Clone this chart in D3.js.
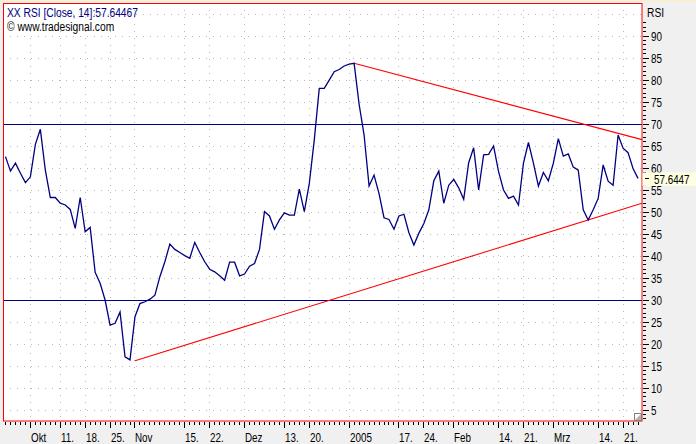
<!DOCTYPE html>
<html>
<head>
<meta charset="utf-8">
<script src="https://cdn.jsdelivr.net/npm/d3@7/dist/d3.min.js"></script>
<style>
  html, body { margin: 0; padding: 0; background: #f0f0f0; }
  svg { display: block; }
  text { font-family: "Liberation Sans", Arial, sans-serif; }
</style>
</head>
<body>
<svg id="chart" width="696" height="444"></svg>
<script>
// ---- data ----
const tickIdx = [5, 11, 16, 21, 26, 36, 41, 48, 56, 61, 69, 79, 84, 90, 99, 104, 110, 119, 124];
const tickLabels = ["Okt", "11.", "18.", "25.", "Nov", "15.", "22.", "Dez", "13.", "20.", "2005", "17.", "24.", "Feb", "14.", "21.", "Mrz", "14.", "21."];
const rsi = [
  62.6, 59.3, 61.1, 58.8, 56.7, 58.0, 65.4, 68.8, 59.5, 53.3,
  53.3, 52.0, 51.6, 50.6, 46.3, 53.3, 45.5, 46.5, 36.3, 33.8,
  30.0, 24.3, 24.7, 27.3, 17.1, 16.4, 26.2, 29.2, 29.6, 30.2,
  31.1, 35.3, 38.7, 42.7, 41.5, 40.8, 40.1, 39.5, 43.1, 40.8,
  38.7, 37.0, 36.4, 35.5, 34.5, 38.6, 38.6, 35.5, 35.9, 37.7,
  38.3, 41.5, 50.1, 49.1, 46.1, 48.2, 49.8, 49.3, 49.3, 55.2,
  50.1, 56.5, 66.4, 78.1, 78.1, 80.0, 81.9, 82.4, 83.2, 83.6,
  83.8, 74.5, 67.5, 55.9, 58.4, 54.2, 48.7, 48.3, 46.1, 49.1,
  49.5, 45.3, 42.5, 45.2, 47.4, 50.5, 57.1, 59.3, 52.0, 56.1,
  57.4, 55.5, 52.9, 61.2, 64.6, 55.0, 63.0, 63.1, 65.0, 59.2,
  55.0, 53.1, 53.6, 51.6, 61.1, 65.8, 61.1, 55.9, 59.0, 57.1,
  61.1, 66.7, 62.7, 63.2, 60.2, 59.5, 50.5, 48.2, 50.5, 53.1,
  60.7, 57.0, 56.1, 67.5, 64.5, 63.5, 59.9, 57.64467
];
const lastValue = 57.64467;
const levels = [30, 70];
const upperTrend = [[70, 83.8], [123, 67.9]];
const lowerTrend = [[26, 16.2], [117, 48.2]];
const yLabelValues = [5, 10, 15, 20, 25, 30, 35, 40, 45, 50, 55, 60, 65, 70, 75, 80, 85, 90];
const yGridValues = [5, 10, 15, 20, 25, 35, 40, 45, 50, 55, 60, 65, 75, 80, 85, 90, 95];
const yMinorTicks = d3.range(3, 94);

// ---- layout ----
const W = 696, H = 444;
const L = 3, R = 642, T = 3, B = 421;
const NARROW = 0.82;
const svg = d3.select("#chart");

const x = d3.scaleLinear().domain([-0.5, 127.8]).range([L, R]);
const y = d3.scaleLinear().domain([2.5, 97.4]).range([B, T + 0.5]);
const px = v => Math.floor(v) + 0.5;

function narrowText(sel, tx, ty) {
  return sel.attr("x", 0).attr("y", 0)
    .attr("transform", (d, i) => `translate(${typeof tx === "function" ? tx(d, i) : tx},${typeof ty === "function" ? ty(d, i) : ty}) scale(${NARROW},1)`);
}

// backgrounds
svg.append("rect").attr("width", W).attr("height", H).attr("fill", "#f0f0f0");
svg.append("rect").attr("x", 0).attr("y", 0).attr("width", W).attr("height", 2).attr("fill", "#f6efd6");
svg.append("rect").attr("x", L).attr("y", T).attr("width", R - L).attr("height", B - T).attr("fill", "#ffffff");

svg.append("clipPath").attr("id", "plotclip")
  .append("rect").attr("x", L).attr("y", T).attr("width", R - L).attr("height", B - T);
const plot = svg.append("g").attr("clip-path", "url(#plotclip)");

// grid
plot.selectAll("line.hg").data(yGridValues).join("line")
  .attr("x1", L).attr("x2", R)
  .attr("y1", d => px(y(d))).attr("y2", d => px(y(d)))
  .attr("stroke", "#b8b8b8").attr("stroke-width", 1).attr("stroke-dasharray", "1,6");
plot.selectAll("line.vg").data(tickIdx).join("line")
  .attr("y1", T).attr("y2", B)
  .attr("x1", d => px(x(d))).attr("x2", d => px(x(d)))
  .attr("stroke", "#b8b8b8").attr("stroke-width", 1).attr("stroke-dasharray", "1,6");

// level lines
plot.selectAll("line.lvl").data(levels).join("line")
  .attr("x1", L).attr("x2", R)
  .attr("y1", d => px(y(d))).attr("y2", d => px(y(d)))
  .attr("stroke", "#000080").attr("stroke-width", 1);

// trend lines extended to the right edge
const xEnd = x.domain()[1];
function extend(pts) {
  const [[i0, v0], [i1, v1]] = pts;
  const s = (v1 - v0) / (i1 - i0);
  return [[i0, v0], [xEnd, v0 + s * (xEnd - i0)]];
}
const tl = d3.line().x(d => x(d[0])).y(d => y(d[1]));
[upperTrend, lowerTrend].forEach(t => {
  plot.append("path").attr("d", tl(extend(t)))
    .attr("fill", "none").attr("stroke", "#ff0000").attr("stroke-width", 1.1);
});

// RSI line
const line = d3.line().x((d, i) => x(i)).y(d => y(d));
plot.append("path").datum(rsi).attr("d", line)
  .attr("fill", "none").attr("stroke", "#000080").attr("stroke-width", 1.3);

// plot border
svg.append("rect").attr("x", L + 0.5).attr("y", T + 0.5).attr("width", R - L - 0.5).attr("height", B - T - 0.5)
  .attr("fill", "none").attr("stroke", "#ff0000").attr("stroke-width", 1);

// resize grip
svg.append("rect").attr("x", 634.5).attr("y", 413.5).attr("width", 7).attr("height", 7)
  .attr("fill", "#ffffff").attr("stroke", "#808080");
svg.append("path").attr("d", "M641,414 L641,420 L635,420 Z").attr("fill", "#b0b0b0");

// x axis ticks
const ax = svg.append("g");
ax.selectAll("line.minx").data(d3.range(0, rsi.length)).join("line")
  .attr("x1", d => px(x(d))).attr("x2", d => px(x(d)))
  .attr("y1", B + 1).attr("y2", B + 4)
  .attr("stroke", "#000").attr("stroke-width", 1);
ax.selectAll("line.majx").data(tickIdx).join("line")
  .attr("x1", d => px(x(d))).attr("x2", d => px(x(d)))
  .attr("y1", B + 1).attr("y2", B + 7)
  .attr("stroke", "#000").attr("stroke-width", 1);
narrowText(ax.selectAll("text.xl").data(tickIdx).join("text"), d => Math.floor(x(d)) + 1, 441.5)
  .attr("font-size", 12).attr("fill", "#000")
  .text((d, i) => tickLabels[i]);

// y axis ticks (right)
const ay = svg.append("g");
ay.selectAll("line.miny").data(yMinorTicks).join("line")
  .attr("x1", R + 1).attr("x2", R + 4)
  .attr("y1", d => px(y(d))).attr("y2", d => px(y(d)))
  .attr("stroke", "#000").attr("stroke-width", 1);
ay.selectAll("line.majy").data(yLabelValues).join("line")
  .attr("x1", R + 1).attr("x2", R + 7)
  .attr("y1", d => px(y(d))).attr("y2", d => px(y(d)))
  .attr("stroke", "#000").attr("stroke-width", 1);
narrowText(ay.selectAll("text.yl").data(yLabelValues).join("text"), 651, d => y(d) + 4.6)
  .attr("font-size", 12).attr("fill", "#000")
  .text(d => d);

narrowText(svg.append("text"), 647, 16.7).attr("font-size", 12.5).attr("fill", "#000").text("RSI");

// last value box
const yl = y(lastValue);
svg.append("rect").attr("x", R + 0.5).attr("y", yl - 6).attr("width", W - R).attr("height", 13.5)
  .attr("fill", "#ffffe1");
svg.append("line").attr("x1", R + 3).attr("x2", R + 7).attr("y1", px(yl)).attr("y2", px(yl))
  .attr("stroke", "#000");
narrowText(svg.append("text"), 654, yl + 5.6).attr("font-size", 12).attr("fill", "#000")
  .text(d3.format(".4f")(lastValue));

// header
narrowText(svg.append("text"), 7, 17.3).attr("font-size", 12.5).attr("fill", "#000080")
  .text("XX RSI [Close, 14]:" + lastValue);
narrowText(svg.append("text"), 7, 30.5).attr("font-size", 12.5).attr("fill", "#000")
  .text("\u00a9 www.tradesignal.com");
</script>
</body>
</html>
